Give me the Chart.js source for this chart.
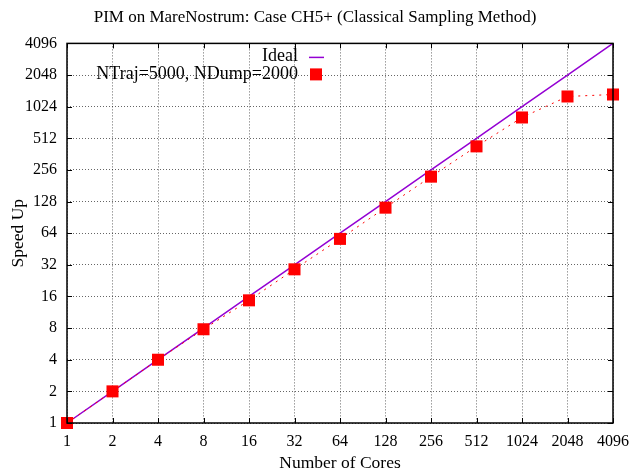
<!DOCTYPE html>
<html>
<head>
<meta charset="utf-8">
<script src="https://cdn.jsdelivr.net/npm/chart.js@4/dist/chart.umd.min.js"></script>
<style>
  html, body { margin: 0; padding: 0; background: #fff; }
  #wrap { width: 630px; height: 470px; }
</style>
</head>
<body>
<div id="wrap"><canvas id="speedChart"></canvas></div>
<script>
// number of cores (x) and measured speed up (y)
var cores = [1, 2, 4, 8, 16, 32, 64, 128, 256, 512, 1024, 2048, 4096];
var idealSpeedUp = [1, 2, 4, 8, 16, 32, 64, 128, 256, 512, 1024, 2048, 4096];
var measuredSpeedUp = [1, 2, 4, 7.8, 14.7, 29, 56.5, 112, 221, 429, 808, 1280, 1337];

// powers of two used as ticks on both axes
var tickValues = [1, 2, 4, 8, 16, 32, 64, 128, 256, 512, 1024, 2048, 4096];

var serif = '"Liberation Serif", "DejaVu Serif", serif';

function toPoints(xs, ys) {
  return xs.map(function (x, i) { return { x: x, y: ys[i] }; });
}

// frame, inward tick marks and the legend box inside the plot
var framePlugin = {
  id: 'frame',
  afterDatasetsDraw: function (chart) {
    var ctx = chart.ctx;
    var a = chart.chartArea;
    var sx = chart.scales.x, sy = chart.scales.y;
    var len = 5;
    ctx.save();
    ctx.strokeStyle = '#000';
    ctx.lineWidth = 1;
    ctx.beginPath();
    tickValues.forEach(function (v) {
      var px = Math.round(sx.getPixelForValue(v)) + 0.5;
      ctx.moveTo(px, a.bottom); ctx.lineTo(px, a.bottom - len);
      ctx.moveTo(px, a.top); ctx.lineTo(px, a.top + len);
      var py = Math.round(sy.getPixelForValue(v)) + 0.5;
      ctx.moveTo(a.left, py); ctx.lineTo(a.left + len, py);
      ctx.moveTo(a.right, py); ctx.lineTo(a.right - len, py);
    });
    ctx.stroke();
    ctx.lineWidth = 1.5;
    ctx.strokeRect(a.left, a.top, a.right - a.left, a.bottom - a.top);

    // legend
    var textRight = a.left + 231;
    var rowY = a.top + 13;
    ctx.font = '18px ' + serif;
    ctx.fillStyle = '#000';
    ctx.textAlign = 'right';
    ctx.textBaseline = 'middle';
    chart.data.datasets.slice().sort(function (p, q) { return q.order - p.order; }).forEach(function (ds) {
      ctx.fillText(ds.label, textRight, rowY);
      if (ds.pointRadius > 0) {
        ctx.fillStyle = ds.pointBackgroundColor;
        ctx.fillRect(textRight + 12, rowY - 6, 12, 12);
        ctx.fillStyle = '#000';
      } else {
        ctx.strokeStyle = ds.borderColor;
        ctx.lineWidth = ds.borderWidth;
        ctx.beginPath();
        ctx.moveTo(textRight + 11, rowY + 1);
        ctx.lineTo(textRight + 26, rowY + 1);
        ctx.stroke();
      }
      rowY += 18;
    });
    ctx.restore();
  }
};

var axisBase = {
  type: 'logarithmic',
  min: 1,
  max: 4096,
  afterBuildTicks: function (scale) {
    scale.ticks = tickValues.map(function (v) { return { value: v }; });
  },
  grid: {
    color: 'rgba(0,0,0,0.6)',
    lineWidth: 1,
    drawTicks: false
  },
  border: { display: false, dash: [1, 2] }
};

var config = {
  type: 'line',
  data: {
    datasets: [
      {
        label: 'Ideal',
        data: toPoints(cores, idealSpeedUp),
        borderColor: '#9400d3',
        borderWidth: 1.5,
        pointRadius: 0,
        order: 2,
        clip: false
      },
      {
        label: 'NTraj=5000, NDump=2000',
        data: toPoints(cores, measuredSpeedUp),
        borderColor: '#ff0000',
        borderWidth: 1,
        borderDash: [2, 5],
        pointStyle: 'rect',
        pointRadius: 8.5,
        pointBackgroundColor: '#ff0000',
        pointBorderWidth: 0,
        order: 1,
        clip: false
      }
    ]
  },
  options: {
    responsive: true,
    maintainAspectRatio: false,
    animation: false,
    layout: { padding: 0 },
    plugins: {
      legend: { display: false },
      tooltip: { enabled: false },
      title: {
        display: true,
        text: 'PIM on MareNostrum: Case CH5+ (Classical Sampling Method)',
        color: '#000',
        font: { family: serif, size: 17, weight: 'normal' },
        padding: { top: 7, bottom: 16 }
      }
    },
    scales: {
      x: Object.assign({}, axisBase, {
        position: 'bottom',
        ticks: {
          color: '#000',
          font: { family: serif, size: 16 },
          padding: 9,
          autoSkip: false,
          maxRotation: 0,
          callback: function (v) { return String(v); }
        },
        title: {
          display: true,
          text: 'Number of Cores',
          color: '#000',
          font: { family: serif, size: 17.5 },
          padding: { top: 4, bottom: -4 }
        },
        afterFit: function (s) {
          s.height = 47;
          s.paddingRight = 17;
        }
      }),
      y: Object.assign({}, axisBase, {
        position: 'left',
        ticks: {
          color: '#000',
          font: { family: serif, size: 16 },
          padding: 10,
          autoSkip: false,
          callback: function (v) { return String(v); }
        },
        title: {
          display: true,
          text: 'Speed Up',
          color: '#000',
          font: { family: serif, size: 17.5 },
          padding: { top: 8, bottom: 0 }
        },
        afterFit: function (s) { s.width = 67; }
      })
    }
  },
  plugins: [framePlugin]
};

var chart = new Chart(document.getElementById('speedChart').getContext('2d'), config);
</script>
</body>
</html>
